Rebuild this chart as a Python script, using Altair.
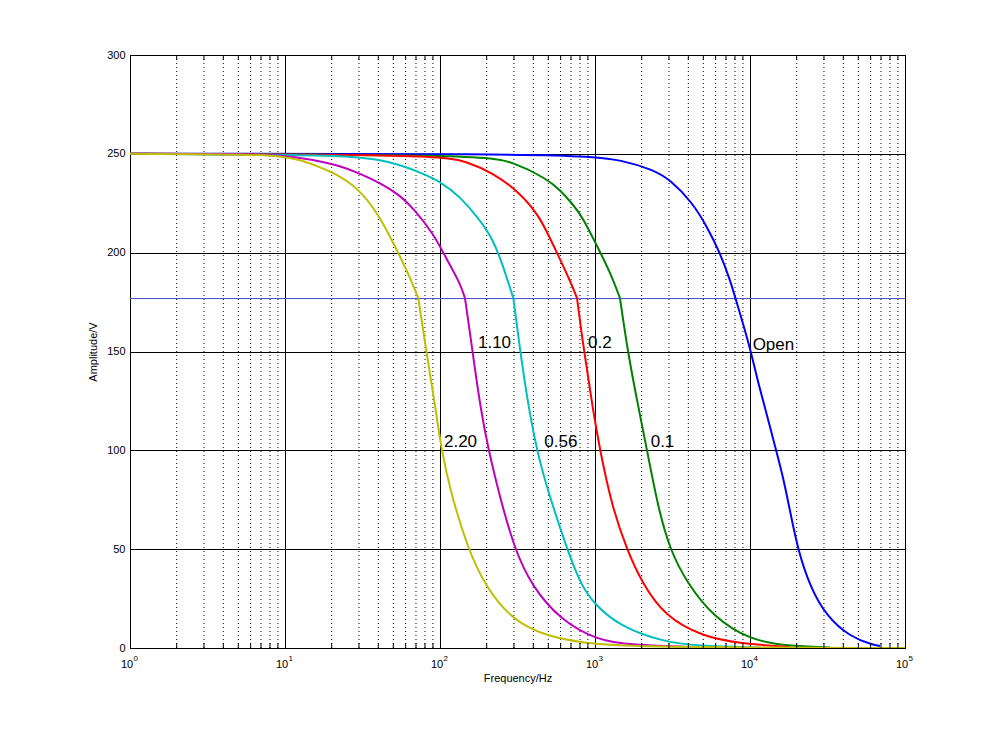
import altair as alt
import pandas as pd

# ---- data (frequency in Hz, amplitude in V) ----
freq_open = [1, 328, 971, 1449, 2366, 3048, 4290, 5280, 6400, 7430, 8055,
             8872, 10140, 11170, 12130, 14710, 16330, 18250, 20400, 24400, 31240, 44150, 62200, 69000]
amp_open = [250, 250, 248.6, 247, 242, 237, 225, 213, 200, 186.2, 177,
            166, 150, 135.6, 125.5, 100.2, 86.7, 68.2, 49.6, 31, 15.9, 5.7, 1.5, 1]

freq_01 = [1, 181.1, 295.8, 488, 594.6, 724.4, 837, 1030, 1250, 1449,
           1633, 1866, 2164, 2547, 3046, 3924, 5774, 10000, 17330, 32810]
amp_01 = [250, 249.5, 246, 237.4, 231.8, 224.2, 217.6, 203.4, 190.3, 177,
          149.2, 125.4, 100.2, 71.4, 49.6, 33, 15.8, 4, 1, 0.3]

freq_02 = [1, 100, 149.4, 219.8, 328.2, 441.6, 556, 690, 765.5,
           818, 875, 963, 1077, 1288, 1608, 2010, 2831, 4977, 8617, 18120]
amp_02 = [250, 249.5, 246, 240.4, 230.3, 218.3, 201.4, 186, 177,
          159.4, 144.2, 122, 100, 71.5, 49.6, 33, 15.9, 5.7, 2.3, 0.5]

freq_056 = [1, 15.2, 26.3, 41.0, 55.2, 74.3, 100, 134.6, 181.1, 220.6, 256, 297.2,
            328.2, 362.5, 420.5, 494, 656.6, 800, 970, 1449, 2748, 4550, 11600]
amp_056 = [250, 249.5, 248.7, 247, 244.4, 240.6, 236.1, 228.4, 216.6, 206.5, 193, 177,
           151, 127.5, 100, 80, 50.6, 33, 22.8, 10.8, 3.2, 1, 0.2]

freq_110 = [1, 3.63, 9.77, 15.2, 22.6, 30.5, 41.0, 55.2, 67.0, 90.2, 110.9, 134.6, 144.9,
            156.2, 168.2, 182.5, 201, 236.7, 300, 392.4, 603.5, 1030, 1683, 4753]
amp_110 = [250, 250, 249.5, 247, 244, 240, 235.3, 229, 222.5, 210, 196.4, 184.7, 177,
           159.4, 140.7, 122, 103.7, 80, 50.6, 31, 14, 4, 1.5, 0.3]

freq_220 = [1, 6.4, 10, 12.5, 15.8, 19.95, 29.7, 41.0, 51.3, 62.4, 72.4,
            82.0, 93.3, 102.3, 116.1, 150.4, 196.6, 291.7, 489.8, 977, 3162, 100000]
amp_220 = [250, 249.7, 248.5, 247, 244, 241.1, 233, 218.3, 203.1, 189.6, 177,
           149, 122, 100, 80, 50.6, 31, 14.2, 5.7, 1.5, 0.3, 0]

series_names = ["Open", "0.1", "0.2", "0.56", "1.10", "2.20"]
series_colors = ["#0000FF", "#008000", "#FF0000", "#00BFBF", "#BF00BF", "#BFBF00"]
series_freq = [freq_open, freq_01, freq_02, freq_056, freq_110, freq_220]
series_amp = [amp_open, amp_01, amp_02, amp_056, amp_110, amp_220]

label_text = ["1.10", "0.2", "Open", "2.20", "0.56", "0.1"]
label_freq = [175.8, 901.6, 10400, 106.1, 471, 2287]
label_amp = [154.4, 154.4, 153.3, 104.4, 104.3, 104.3]

threshold = [176.78]

major_ticks = [1, 10, 100, 1000, 10000, 100000]
major_exp = ["0", "1", "2", "3", "4", "5"]
minor_ticks = [2, 3, 4, 5, 6, 7, 8, 9,
               20, 30, 40, 50, 60, 70, 80, 90,
               200, 300, 400, 500, 600, 700, 800, 900,
               2000, 3000, 4000, 5000, 6000, 7000, 8000, 9000,
               20000, 30000, 40000, 50000, 60000, 70000, 80000, 90000]
y_ticks = [0, 50, 100, 150, 200, 250, 300]

W, H = 775, 593
FONT = "Liberation Sans"

xs = alt.Scale(type="log", domain=[1, 100000], nice=False)
ys = alt.Scale(domain=[0, 300], nice=False, zero=False)

x_axis = alt.Axis(values=major_ticks, labels=False, ticks=False, domain=False,
                  grid=True, gridColor="black", gridWidth=1, gridOpacity=1,
                  title="Frequency/Hz", titleFont=FONT, titleFontSize=11,
                  titleFontWeight="normal", titleColor="black", titlePadding=24)
y_axis = alt.Axis(values=y_ticks, ticks=False, domain=False, labelFlush=False,
                  grid=True, gridColor="black", gridWidth=1, gridOpacity=1,
                  labelFont=FONT, labelFontSize=11, labelColor="black", labelPadding=5,
                  title="Amplitude/V", titleFont=FONT, titleFontSize=11,
                  titleFontWeight="normal", titleColor="black", titlePadding=8)

X = alt.X("f:Q", scale=xs, axis=x_axis)
Y = alt.Y("v:Q", scale=ys, axis=y_axis)

minor_df = pd.DataFrame({"f": minor_ticks})
major_df = pd.DataFrame({"f": major_ticks, "e": major_exp})

minor_grid = alt.Chart(minor_df).mark_rule(color="black", strokeWidth=1, strokeDash=[1, 3]).encode(x=X)
bottom_ticks = alt.Chart(minor_df).mark_rule(color="black", strokeWidth=1).encode(
    x=X, y=alt.value(H), y2=alt.value(H - 5))
top_ticks = alt.Chart(minor_df).mark_rule(color="black", strokeWidth=1).encode(
    x=X, y=alt.value(0), y2=alt.value(5))

thr = alt.Chart(pd.DataFrame({"v": threshold})).mark_rule(color="#4848C8", strokeWidth=1).encode(y=Y)

lines = []
for name, col, fr, am in zip(series_names, series_colors, series_freq, series_amp):
    k = am.index(177)  # knee of the curve, where the response changes slope
    for part in (slice(0, k + 1), slice(k, None)):
        df = pd.DataFrame({"f": fr[part], "v": am[part]})
        lines.append(alt.Chart(df).mark_line(color=col, strokeWidth=2, clip=True,
                                             interpolate="basis").encode(x=X, y=Y))

lab_df = pd.DataFrame({"f": label_freq, "v": label_amp, "t": label_text})
labels = alt.Chart(lab_df).mark_text(align="left", baseline="middle", font=FONT,
                                     fontSize=17, color="black").encode(x=X, y=Y, text="t:N")

ten = alt.Chart(major_df).mark_text(align="center", baseline="alphabetic", dx=-3, font=FONT,
                                    fontSize=11, color="black").encode(
    x=X, y=alt.value(H + 20), text=alt.value("10"))
expo = alt.Chart(major_df).mark_text(align="left", baseline="alphabetic", dx=3.5, font=FONT,
                                     fontSize=8, color="black").encode(
    x=X, y=alt.value(H + 13), text="e:N")

chart = alt.layer(minor_grid, thr, *lines, labels, bottom_ticks, top_ticks, ten, expo).properties(
    width=W, height=H,
    autosize=alt.AutoSizeParams(type="none"),
    padding={"left": 130, "top": 55, "right": 95, "bottom": 81},
    background="white",
).configure_view(stroke="black", strokeWidth=1)

chart.save("out.html", embed_options={"renderer": "svg", "actions": False})
